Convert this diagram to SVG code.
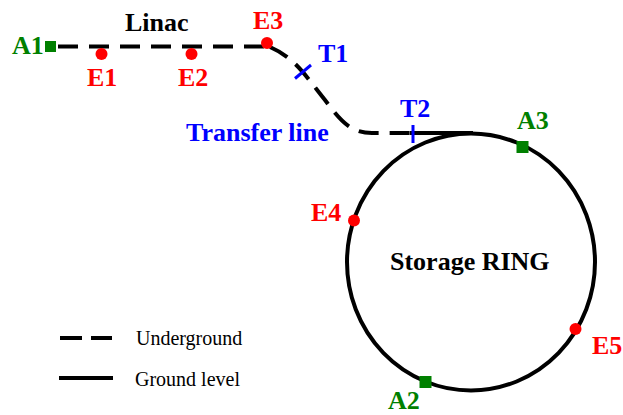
<svg xmlns="http://www.w3.org/2000/svg" width="623" height="415" viewBox="0 0 623 415">
<style>
.lbl{font-family:'Liberation Serif','Times New Roman',Times,Tinos,'Nimbus Roman','DejaVu Serif',serif;font-weight:700;font-size:26px}
.red{fill:#ff0000}.green{fill:#008000}.blue{fill:#0000ff}.blk{fill:#000}
.leg{font-family:'Liberation Serif','Times New Roman',Times,Tinos,'Nimbus Roman','DejaVu Serif',serif;font-size:20px;fill:#000}
.dash{fill:none;stroke:#000;stroke-width:4;stroke-dasharray:20 11}
.solid{fill:none;stroke:#000;stroke-width:4}
.tick{stroke:#0000ff;stroke-width:3}
</style>
<rect width="623" height="415" fill="#fff"/>
<g id="connectors">
<path class="dash" d="M58 46.5 L267 46.5"/>
<path class="dash" d="M270 47 C295 58 305 75 325 100 C340 120 350 133 372 133 L410 133"/>
<path class="solid" d="M410 133 L473 133"/>
</g>
<g id="ring"><ellipse class="solid" cx="471" cy="262" rx="124" ry="128.5"/><text class="lbl blk" x="390" y="270">Storage RING</text></g>
<g id="linac"><text class="lbl blk" x="125" y="31">Linac</text></g>
<g id="transfer"><text class="lbl blue" x="186" y="141">Transfer line</text></g>
<g id="A1"><rect class="green" x="45" y="41" width="11" height="11"/><text class="lbl green" x="12" y="54">A1</text></g>
<g id="E1"><circle class="red" cx="101.5" cy="54" r="6"/><text class="lbl red" x="87" y="86">E1</text></g>
<g id="E2"><circle class="red" cx="191.5" cy="54" r="6"/><text class="lbl red" x="178" y="86">E2</text></g>
<g id="E3"><circle class="red" cx="267" cy="43" r="6"/><text class="lbl red" x="253" y="29">E3</text></g>
<g id="T1"><line class="tick" x1="295" y1="78.5" x2="311" y2="65"/><text class="lbl blue" x="318" y="62">T1</text></g>
<g id="T2"><line class="tick" x1="413" y1="125" x2="413" y2="143"/><text class="lbl blue" x="400" y="117">T2</text></g>
<g id="A3"><rect class="green" x="516.5" y="141" width="12" height="12"/><text class="lbl green" x="517" y="129">A3</text></g>
<g id="E4"><circle class="red" cx="354" cy="220.5" r="6"/><text class="lbl red" x="311" y="221">E4</text></g>
<g id="E5"><circle class="red" cx="575.5" cy="329" r="6"/><text class="lbl red" x="592" y="354">E5</text></g>
<g id="A2"><rect class="green" x="419.5" y="376" width="12" height="12"/><text class="lbl green" x="388" y="409">A2</text></g>
<g id="legend">
<line class="dash" x1="60" y1="338" x2="112" y2="338" style="stroke-dasharray:22 9"/>
<text class="leg" x="136" y="345">Underground</text>
<line class="solid" x1="59" y1="378" x2="113" y2="378"/>
<text class="leg" x="135" y="386">Ground level</text>
</g>
</svg>
